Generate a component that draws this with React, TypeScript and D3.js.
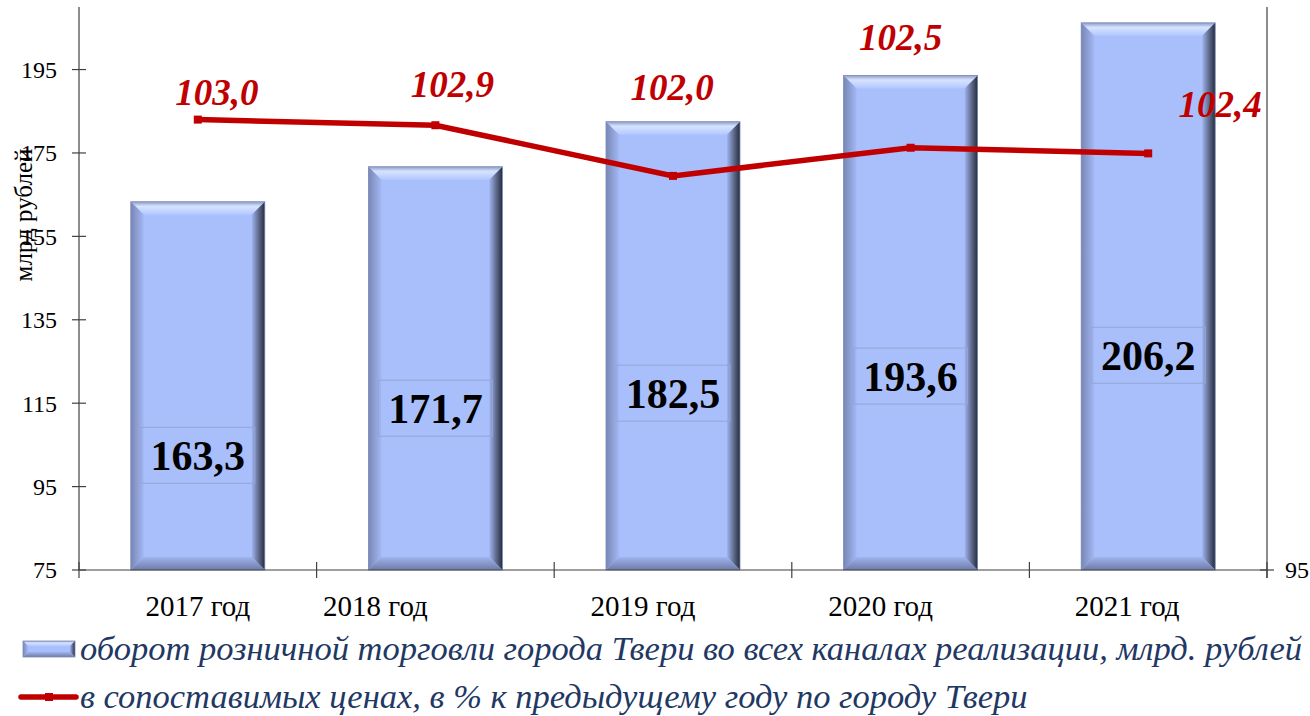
import React from "react"
import * as d3 from "d3"

// chart data
const years = ["2017 год", "2018 год", "2019 год", "2020 год", "2021 год"]
const turnover = [163.3, 171.7, 182.5, 193.6, 206.2]
const turnoverText = ["163,3", "171,7", "182,5", "193,6", "206,2"]
const indexPct = [103.0, 102.9, 102.0, 102.5, 102.4]
const indexText = ["103,0", "102,9", "102,0", "102,5", "102,4"]
const leftTicks = [75, 95, 115, 135, 155, 175, 195]
const rightTicks = [95]
const legendBar = "оборот розничной торговли города Твери во всех каналах реализации, млрд. рублей"
const legendLine = "в сопоставимых ценах, в % к предыдущему году по городу Твери"
const axisTitle = "млрд рублей"

// manual label placement (like in the source chart)
const boxLevel = [102.5, 113.8, 117.4, 121.5, 126.5]
const redShift = [[19, -15], [17, -28], [-1, -76], [-10, -98], [72, -36]]
const yearShift = [0, -60, -30, -30, -21]

const W = 1310
const H = 716
const left = 79
const right = 1267
const top = 7
const bottom = 570

const BAR = "#a9bffb"
const RED = "#c00000"
const NAVY = "#1f3864"
const AXIS = "#404040"
const serif = { fontFamily: "'Liberation Serif', 'Times New Roman', serif" }

function BevelRect({ x, y, w, h, b }: { x: number; y: number; w: number; h: number; b: number }) {
    const x1 = x + w
    const y1 = y + h
    return (
        <g>
            <rect x={x} y={y} width={w} height={h} fill={BAR} />
            <polygon points={`${x},${y} ${x1},${y} ${x1 - b},${y + b} ${x + b},${y + b}`} fill="url(#bevTop)" />
            <polygon points={`${x},${y} ${x + b},${y + b} ${x + b},${y1 - b} ${x},${y1}`} fill="url(#bevLeft)" />
            <polygon points={`${x1},${y} ${x1},${y1} ${x1 - b},${y1 - b} ${x1 - b},${y + b}`} fill="url(#bevRight)" />
            <polygon points={`${x},${y1} ${x1},${y1} ${x1 - b},${y1 - b} ${x + b},${y1 - b}`} fill="url(#bevBottom)" />
            <rect x={x} y={y} width={w} height={h} fill="none" stroke="#7d8cb8" strokeWidth={0.8} />
        </g>
    )
}

export default function App() {
    const x = d3.scaleBand<string>().domain(years).range([left, right]).paddingInner(0.436).paddingOuter(0.218)
    const band = d3.scaleBand<string>().domain(years).range([left, right])
    const yL = d3.scaleLinear().domain([75, 210]).range([bottom, top])
    const yR = d3.scaleLinear().domain([95, 105]).range([bottom, top])

    const cx = (i: number) => (band(years[i]) as number) + band.bandwidth() / 2

    const line = d3.line<number>()
        .x((_, i) => cx(i))
        .y(d => yR(d))

    const bounds = [...years.map(y => band(y) as number), right]

    return (
        <svg width={W} height={H} style={{ position: "absolute", left: 0, top: 0, background: "#fff" }}>
            <defs>
                <linearGradient id="bevTop" x1="0" y1="0" x2="0" y2="1">
                    <stop offset="0" stopColor="#8e9cc8" />
                    <stop offset="0.35" stopColor="#d6e3ff" />
                    <stop offset="1" stopColor="#b3c7ff" />
                </linearGradient>
                <linearGradient id="bevLeft" x1="0" y1="0" x2="1" y2="0">
                    <stop offset="0" stopColor="#7886b4" />
                    <stop offset="1" stopColor="#a3b8f4" />
                </linearGradient>
                <linearGradient id="bevRight" x1="1" y1="0" x2="0" y2="0">
                    <stop offset="0" stopColor="#262c40" />
                    <stop offset="0.4" stopColor="#56617f" />
                    <stop offset="1" stopColor="#9fb3ee" />
                </linearGradient>
                <linearGradient id="bevBottom" x1="0" y1="1" x2="0" y2="0">
                    <stop offset="0" stopColor="#6e7ba6" />
                    <stop offset="1" stopColor="#a0b4ee" />
                </linearGradient>
            </defs>

            {/* bars */}
            {turnover.map((v, i) => {
                const bx = x(years[i]) as number
                return <BevelRect key={i} x={bx} y={yL(v)} w={x.bandwidth()} h={bottom - yL(v)} b={13} />
            })}

            {/* value boxes inside bars */}
            {turnoverText.map((t, i) => {
                const c = yL(boxLevel[i])
                return (
                    <g key={i}>
                        <rect x={cx(i) - 57} y={c - 28} width={114} height={56} fill="none" stroke="#93a6d6" strokeWidth={1} />
                        <text x={cx(i)} y={c + 15} textAnchor="middle" style={serif} fontWeight="bold" fontSize={42} fill="#000">{t}</text>
                    </g>
                )
            })}

            {/* axes */}
            <g stroke={AXIS} strokeWidth={1.2}>
                <line x1={left} y1={top} x2={left} y2={bottom} />
                <line x1={right} y1={top} x2={right} y2={bottom + 8} />
                <line x1={left} y1={bottom} x2={right} y2={bottom} />
                {leftTicks.map(t => <line key={t} x1={left - 7} x2={left + 7} y1={yL(t)} y2={yL(t)} />)}
                {rightTicks.map(t => <line key={t} x1={right - 7} x2={right + 7} y1={yR(t)} y2={yR(t)} />)}
                {bounds.map((b, i) => <line key={i} x1={b} x2={b} y1={bottom - 8} y2={bottom + 8} />)}
            </g>
            {leftTicks.map(t => (
                <text key={t} x={57} y={yL(t)} dy="0.35em" textAnchor="end" style={serif} fontSize={24} fill="#000">{t}</text>
            ))}
            {rightTicks.map(t => (
                <text key={t} x={1285} y={yR(t)} dy="0.35em" style={serif} fontSize={24} fill="#000">{t}</text>
            ))}
            {years.map((y, i) => (
                <text key={y} x={cx(i) + yearShift[i]} y={616} textAnchor="middle" style={serif} fontSize={29} fill="#000">{y}</text>
            ))}
            <text transform="translate(32,215) rotate(-90)" textAnchor="middle" style={serif} fontSize={25} fill="#000">{axisTitle}</text>

            {/* index line */}
            <path d={line(indexPct) as string} fill="none" stroke={RED} strokeWidth={5.5} />
            {indexPct.map((v, i) => (
                <rect key={i} x={cx(i) - 4} y={yR(v) - 4} width={8} height={8} fill={RED} />
            ))}
            {indexText.map((t, i) => (
                <text key={t + i} x={cx(i) + redShift[i][0]} y={yR(indexPct[i]) + redShift[i][1]} textAnchor="middle"
                    style={serif} fontWeight="bold" fontStyle="italic" fontSize={37} fill={RED}>{t}</text>
            ))}

            {/* legend */}
            <BevelRect x={23} y={641} w={52} h={16} b={5} />
            <text x={80} y={660} style={serif} fontStyle="italic" fontSize={34.5} fill={NAVY}>{legendBar}</text>
            <line x1={21} x2={76} y1={697} y2={697} stroke={RED} strokeWidth={5.5} strokeLinecap="round" />
            <rect x={45} y={693} width={8} height={8} fill={RED} />
            <text x={80} y={708} style={serif} fontStyle="italic" fontSize={34.5} fill={NAVY}>{legendLine}</text>
        </svg>
    )
}
